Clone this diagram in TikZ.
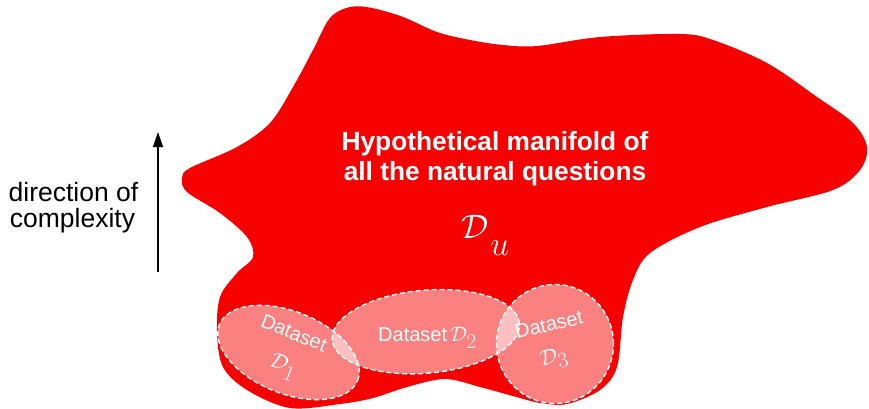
\documentclass[tikz,border=0pt]{standalone}
\usepackage{fix-cm}
\usepackage{fontspec}
\setmainfont{Liberation Sans}
\usetikzlibrary{shapes.geometric,arrows.meta}
\definecolor{blobred}{RGB}{247,0,0}
\begin{document}
\begin{tikzpicture}[x=1pt,y=-1pt,
  dsell/.style={ellipse, draw=white, dash pattern=on 5pt off 3pt, line width=1.4pt,
    fill=white, fill opacity=0.5, draw opacity=1, inner sep=0pt},
  lbl/.style={text=white, font=\fontsize{20}{20}\selectfont, inner sep=0pt},
  mlbl/.style={text=white, font=\fontsize{22}{22}\selectfont, inner sep=0pt},
  title/.style={text=white, font=\fontsize{26.3}{30}\selectfont\bfseries, inner sep=0pt, anchor=base},
  side/.style={text=black, font=\fontsize{26.5}{25.5}\selectfont, inner sep=0pt, anchor=base}]
\useasboundingbox (0,0) rectangle (869,409);
\fill[white] (0,0) rectangle (869,409);
% manifold blob
\fill[blobred] plot[smooth cycle, tension=0.55] coordinates {
 (350,7) (372,8) (403,17) (437,32) (470,40) (503,45) (537,46) (600,37) (680,34)
 (713,40) (767,63) (817,97) (853,123) (867,147) (860,170) (833,190) (767,207)
 (700,227) (650,253) (633,280) (623,317) (617,367) (600,390) (567,404) (540,403)
 (520,398) (480,387) (445,379) (407,387) (373,398) (340,404) (290,408) (247,390)
 (223,367) (217,333) (220,297) (237,273) (253,257) (247,237) (220,213) (187,192)
 (182,178) (190,168) (237,147) (270,123) (293,87) (313,50) (330,18)};
% titles
\node[title] (t1) at (495,150.7) {Hypothetical manifold of};
\node[title] (t2) at (495,180) {all the natural questions};
\node[text=white, inner sep=0pt, anchor=base west, font=\fontsize{34}{34}\selectfont] (du) at (461,238)
  {$\mathcal{D}$\kern2pt\raisebox{-17pt}{$u$}};
% datasets
\node[dsell, minimum width=149pt, minimum height=82pt, rotate=-22] (e1) at (288.5,352.5) {};
\node[dsell, minimum width=188pt, minimum height=83pt, rotate=5] (e2) at (425.8,331.7) {};
\node[dsell, minimum width=117pt, minimum height=119pt] (e3) at (555,344) {};
\node[lbl, rotate=-22] (l1a) at (294,333) {Dataset};
\node[mlbl, rotate=-22] (l1b) at (283,367) {$\mathcal{D}_{\textstyle 1}$};
\node[lbl, anchor=base] (l2) at (427.5,341.7) {Dataset\,{\fontsize{21}{21}\selectfont$\mathcal{D}_{\textstyle 2}$}};
\node[lbl, rotate=13] (l3a) at (549,324.5) {Dataset};
\node[mlbl, rotate=13] (l3b) at (554,359) {$\mathcal{D}_{\textstyle 3}$};
% direction arrow
\coordinate (abot) at (158,272);
\coordinate (atop) at (158,132);
\draw[line width=1.3pt, -{Triangle[length=15pt,width=10pt]}] (abot) -- (atop);
\node[side] (s1) at (73.5,201.7) {direction of};
\node[side] (s2) at (72.5,227.3) {complexity};
\end{tikzpicture}
\end{document}
